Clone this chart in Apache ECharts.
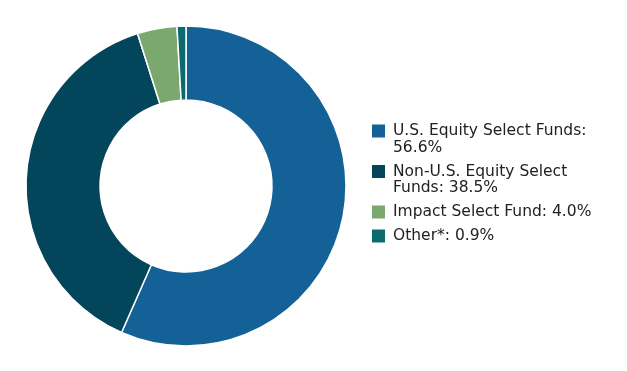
<!DOCTYPE html>
<html><head><meta charset="utf-8">
<script src="https://cdn.jsdelivr.net/npm/echarts@6/dist/echarts.min.js"></script>
<style>html,body{margin:0;padding:0;background:#fff}#c{width:627px;height:371px}</style>
</head><body><div id="c"></div>
<script>
const names = ['U.S. Equity Select Funds', 'Non-U.S. Equity Select Funds', 'Impact Select Fund', 'Other*'];
const values = [56.6, 38.5, 4.0, 0.9];
const labelLines = [
  ['U.S. Equity Select Funds:', '56.6%'],
  ['Non-U.S. Equity Select', 'Funds: 38.5%'],
  ['Impact Select Fund: 4.0%'],
  ['Other*: 0.9%']
];
const colors = ['#136196', '#03455a', '#7aa86f', '#0b6a6e'];

const chart = echarts.init(document.getElementById('c'));
const rich = {
  g: {width: 8, height: 13},
  sp: {width: 21, height: 13},
  t: {fontSize: 15.5, fontFamily: 'DejaVu Sans', color: '#222', lineHeight: 16.5}
};
colors.forEach((c, i) => { rich['sq' + i] = {width: 13, height: 13, backgroundColor: c}; });

chart.setOption({
  animation: false,
  color: colors,
  legend: {
    orient: 'vertical',
    left: 361, top: 118,
    itemWidth: 0, itemHeight: 0,
    itemGap: 8,
    icon: 'rect',
    itemStyle: {opacity: 0},
    selectedMode: false,
    textStyle: {rich: rich},
    formatter: function (name) {
      const i = names.indexOf(name);
      const ls = labelLines[i];
      let s = '{sq' + i + '|}{g|}{t|' + ls[0] + '}';
      for (let k = 1; k < ls.length; k++) s += '\n{sp|}{t|' + ls[k] + '}';
      return s;
    },
    data: names
  },
  series: [{
    type: 'pie',
    center: [186, 186],
    radius: [86, 160],
    startAngle: 90,
    clockwise: true,
    label: {show: false},
    labelLine: {show: false},
    emphasis: {disabled: true},
    itemStyle: {borderColor: '#fff', borderWidth: 1.5},
    data: names.map((n, i) => ({name: n, value: values[i]}))
  }]
});
</script></body></html>
